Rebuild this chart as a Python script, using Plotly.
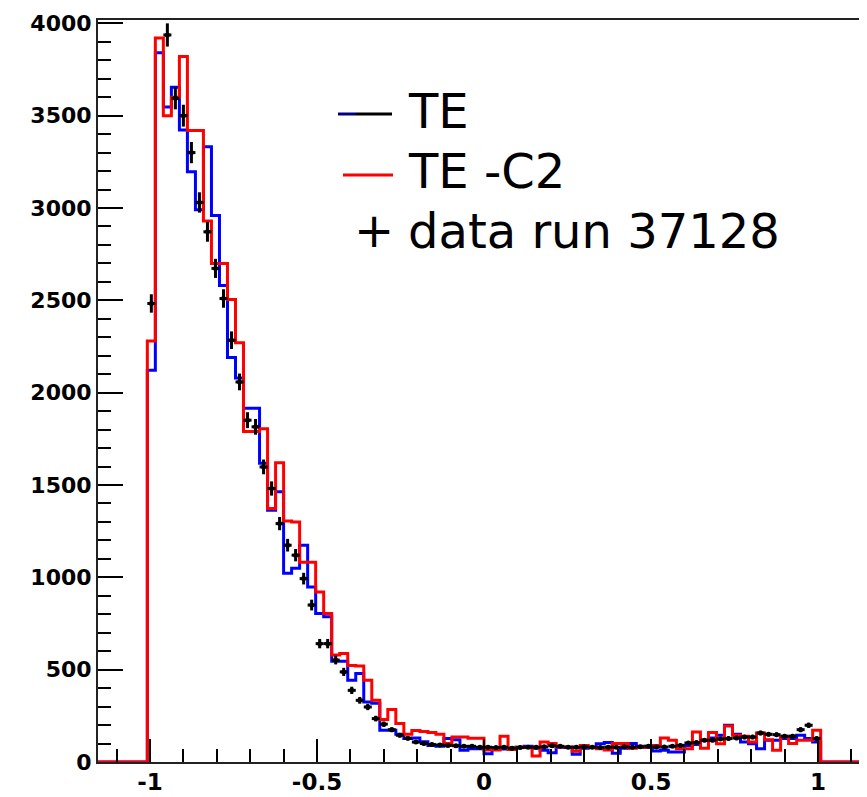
import numpy as np
import plotly.graph_objects as go

# ---- data ----
bin_lo = -1.008      # lower edge of first filled bin
bin_width = 0.024    # histogram bin width
axis_lo, axis_hi = -1.2, 1.2   # histogram full range (empty outside filled bins)

te_blue = [2122, 3840, 3547, 3654, 3422, 3196, 2990, 3332, 2960, 2580,
           2190, 2080, 1915, 1915, 1618, 1363, 1463, 1022, 1049, 1174,
           948, 804, 786, 545, 545, 443, 479, 325, 318, 172,
           172, 150, 127, 130, 110, 90, 85, 127, 120, 63,
           72, 72, 45, 75, 70, 75, 80, 85, 75, 63,
           50, 80, 78, 42, 75, 80, 99, 105, 47, 75,
           100, 85, 80, 60, 63, 54, 54, 90, 95, 118,
           130, 145, 199, 150, 108, 99, 72, 118, 118, 127,
           127, 145, 127, 108]

te_c2_red = [2280, 3920, 3500, 3600, 3820, 3420, 3420, 2930, 2700, 2700,
             2505, 2270, 1790, 1790, 1805, 1373, 1620, 1305, 1300, 1082,
             1082, 921, 804, 580, 587, 522, 520, 443, 334, 230,
             284, 208, 150, 170, 165, 160, 150, 100, 135, 135,
             128, 128, 65, 65, 140, 68, 80, 80, 32, 108,
             100, 81, 81, 58, 90, 80, 72, 65, 100, 100,
             75, 80, 82, 90, 130, 118, 72, 72, 163, 75,
             160, 99, 195, 145, 140, 108, 157, 120, 63, 135,
             100, 118, 118, 172]

data_run = [2483, 4100, 3937, 3594, 3500, 3300, 3030, 2871, 2673, 2510,
            2284, 2058, 1851, 1815, 1598, 1481, 1291, 1174, 1120, 993,
            850, 641, 641, 552, 488, 388, 334, 298, 235, 205,
            175, 145, 128, 108, 100, 95, 92, 90, 88, 85,
            85, 80, 80, 78, 80, 75, 78, 80, 80, 82,
            88, 85, 80, 80, 82, 80, 78, 80, 80, 82,
            80, 82, 85, 81, 81, 85, 90, 103, 105, 118,
            118, 125, 127, 130, 135, 135, 157, 150, 148, 140,
            140, 175, 199, 127]

x_tick_vals = [-1, -0.5, 0, 0.5, 1]
x_tick_text = ["-1", "-0.5", "0", "0.5", "1"]
y_tick_vals = [0, 500, 1000, 1500, 2000, 2500, 3000, 3500, 4000]
y_tick_text = ["0", "500", "1000", "1500", "2000", "2500", "3000", "3500", "4000"]

legend_labels = ["TE", "TE -C2", "data run 37128"]

# ---- build histogram outlines ----
n = len(te_blue)
edges = bin_lo + bin_width * np.arange(n + 1)
centers = 0.5 * (edges[:-1] + edges[1:])


def step_path(vals):
    xs = np.concatenate([[axis_lo], edges, [axis_hi]])
    ys = np.concatenate([[0], np.asarray(vals, float), [0, 0]])
    return xs, ys


fig = go.Figure()

bx, by = step_path(te_blue)
fig.add_trace(go.Scatter(x=bx, y=by, mode="lines", line_shape="hv",
                         line=dict(color="#0000ff", width=3), name=legend_labels[0],
                         showlegend=False, hoverinfo="skip"))
rx, ry = step_path(te_c2_red)
fig.add_trace(go.Scatter(x=rx, y=ry, mode="lines", line_shape="hv",
                         line=dict(color="#ff0000", width=3), name=legend_labels[1],
                         showlegend=False, hoverinfo="skip"))

d = np.asarray(data_run, float)
fig.add_trace(go.Scatter(
    x=centers, y=d, mode="markers", name=legend_labels[2], showlegend=False,
    marker=dict(color="black", size=5, symbol="circle"),
    error_y=dict(type="data", array=np.sqrt(d), color="black", thickness=3, width=0),
    error_x=dict(type="constant", value=bin_width / 2, color="black", thickness=3, width=0),
))

# ---- axes ----
tick_font_x = dict(family="DejaVu Sans", size=23, color="black", weight="bold")
tick_font_y = dict(family="DejaVu Sans", size=22, color="black", weight="bold")

fig.update_xaxes(
    range=[-1.1557, 1.1407], tickmode="array", tickvals=x_tick_vals, ticktext=x_tick_text,
    ticks="inside", ticklen=23, tickwidth=2, tickcolor="black",
    minor=dict(ticks="inside", ticklen=13, tickwidth=2, tickcolor="black",
               dtick=0.1, tick0=0, showgrid=False),
    showline=True, linecolor="#222", linewidth=2, mirror=True,
    showgrid=False, zeroline=False, tickfont=tick_font_x, automargin=False,
    ticklabelstandoff=-2,
)
fig.update_yaxes(
    range=[0, 4018], tickmode="array", tickvals=y_tick_vals, ticktext=y_tick_text,
    ticks="inside", ticklen=25, tickwidth=2, tickcolor="black",
    minor=dict(ticks="inside", ticklen=13, tickwidth=2, tickcolor="black",
               dtick=100, tick0=0, showgrid=False),
    showline=True, linecolor="#222", linewidth=2, mirror=True,
    showgrid=False, zeroline=False, tickfont=tick_font_y, automargin=False,
)

# ---- legend drawn in the plot (lines + text) ----
# The page body adds an 8 px offset; pixel targets below are page coordinates.
OFF = 8
L, T, W, H = 98, 20, 767, 742


def px(xp):
    return (xp - L) / W


def py(yp):
    return (T + H - yp) / H


legend_font = dict(family="DejaVu Sans", size=48, color="black")
shapes = [
    dict(type="line", xref="paper", yref="paper", x0=px(338), x1=px(356), y0=py(114), y1=py(114),
         line=dict(color="#000080", width=3)),
    dict(type="line", xref="paper", yref="paper", x0=px(356), x1=px(392), y0=py(114), y1=py(114),
         line=dict(color="black", width=3)),
    dict(type="line", xref="paper", yref="paper", x0=px(343), x1=px(393), y0=py(175), y1=py(175),
         line=dict(color="#ff0000", width=3)),
]
annotations = [
    dict(text=legend_labels[0], x=px(406), y=py(111), xref="paper", yref="paper",
         xanchor="left", yanchor="middle", showarrow=False, font=legend_font),
    dict(text=legend_labels[1], x=px(406), y=py(171), xref="paper", yref="paper",
         xanchor="left", yanchor="middle", showarrow=False, font=legend_font),
    dict(text="+", x=px(374), y=py(230), xref="paper", yref="paper",
         xanchor="center", yanchor="middle", showarrow=False, font=legend_font),
    dict(text=legend_labels[2], x=px(406), y=py(231), xref="paper", yref="paper",
         xanchor="left", yanchor="middle", showarrow=False, font=legend_font),
]

fig.update_layout(
    width=867 - OFF, height=797 - OFF,
    margin=dict(l=L - OFF, r=867 - L - W, t=T - OFF, b=797 - T - H),
    plot_bgcolor="white", paper_bgcolor="white",
    showlegend=False, shapes=shapes, annotations=annotations,
)

fig.write_html("out.html")
